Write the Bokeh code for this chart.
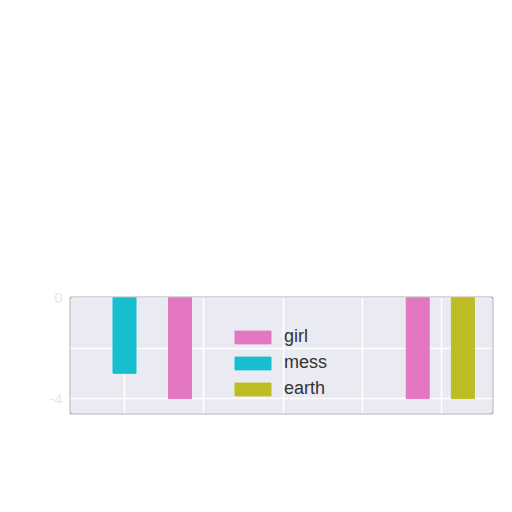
from bokeh.plotting import figure
from bokeh.models import Range1d, FixedTicker, BoxAnnotation, ColumnDataSource
from bokeh.embed import file_html
from bokeh.resources import INLINE

# data
girl_x = [1.70, 4.70]
girl_v = [-4, -4]
mess_x = [1.0]
mess_v = [-3]
earth_x = [5.27]
earth_v = [-4]
y_ticks = [0, -2, -4]
y_tick_labels = {0: "0", -2: "", -4: "-4"}
x_ticks = [1, 2, 3, 4, 5]

FONT = "Liberation Sans, Arial, sans-serif"
X0, X1 = 0.306, 5.656
Y0, Y1 = -4.63, 0.04

p = figure(width=496, height=438, output_backend="svg", toolbar_location=None,
           x_range=Range1d(X0, X1), y_range=Range1d(Y0, Y1),
           min_border_left=69, min_border_right=3, min_border_top=296,
           min_border_bottom=24)

p.background_fill_color = "#eaeaf2"
p.border_fill_color = "white"
p.outline_line_color = None

bw = 0.29
p.vbar(x="x", top=0, bottom="v", width=bw, color="#e377c2", legend_label="girl",
       source=ColumnDataSource(dict(x=girl_x, v=girl_v)))
p.vbar(x="x", top=0, bottom="v", width=bw, color="#17becf", legend_label="mess",
       source=ColumnDataSource(dict(x=mess_x, v=mess_v)))
p.vbar(x="x", top=0, bottom="v", width=bw, color="#bcbd22", legend_label="earth",
       source=ColumnDataSource(dict(x=earth_x, v=earth_v)))

# axes
p.xaxis.visible = False
p.xaxis.ticker = FixedTicker(ticks=x_ticks)
yax = p.yaxis[0]
yax.ticker = FixedTicker(ticks=y_ticks)
yax.major_label_overrides = y_tick_labels
yax.axis_line_color = None
yax.major_tick_line_color = None
yax.minor_tick_line_color = None
yax.major_tick_out = 0
yax.major_tick_in = 0
yax.major_label_standoff = 7
yax.major_label_text_color = "#e8e8e8"
yax.major_label_text_font = FONT
yax.major_label_text_font_size = "15px"

# grid
p.xgrid.grid_line_color = "white"
p.ygrid.grid_line_color = "white"
p.xgrid.grid_line_width = 1.5
p.ygrid.grid_line_width = 1.5

# rounded frame border
box = BoxAnnotation(left=X0, right=X1, bottom=Y0, top=Y1,
                    fill_alpha=0, line_color="#bcbcbc", line_width=2,
                    line_alpha=1.0, border_radius=4, level="overlay")
p.add_layout(box)

# legend
lg = p.legend[0]
lg.location = (161, 15)
lg.padding = 0
lg.margin = 0
lg.border_line_color = None
lg.background_fill_alpha = 0
lg.glyph_width = 45
lg.glyph_height = 16
lg.label_height = 20
lg.spacing = 5
lg.label_standoff = 9
lg.label_text_font = FONT
lg.label_text_font_size = "18px"
lg.label_text_color = "#333333"

open("out.html", "w").write(file_html(p, INLINE))
